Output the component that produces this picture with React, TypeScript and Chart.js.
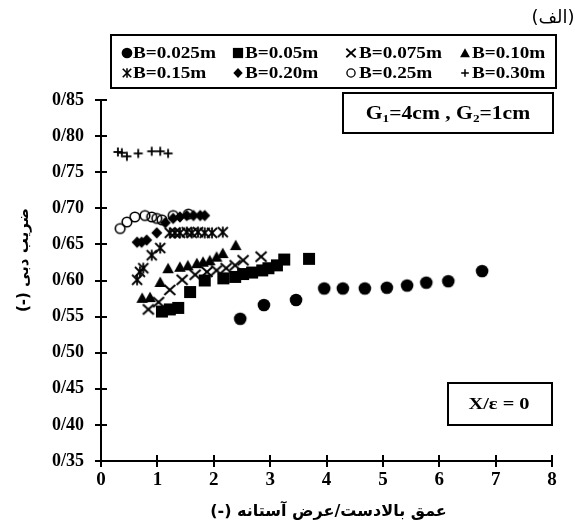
import React, { useEffect, useRef } from 'react';
import { Chart, registerables } from 'chart.js';

Chart.register(...registerables);

// ---------------- data ----------------
const seriesLabels = ['B=0.025m', 'B=0.05m', 'B=0.075m', 'B=0.10m', 'B=0.15m', 'B=0.20m', 'B=0.25m', 'B=0.30m'];
const seriesMarkers = ['circle', 'square', 'x', 'triangle', 'asterisk', 'diamond', 'ocircle', 'plus'];

const b025: [number, number][] = [[2.47, 0.547], [2.89, 0.566], [3.46, 0.573], [3.96, 0.589], [4.29, 0.589], [4.68, 0.589], [5.07, 0.590], [5.43, 0.593], [5.77, 0.597], [6.16, 0.599], [6.76, 0.613]];
const b050: [number, number][] = [[1.08, 0.557], [1.22, 0.560], [1.37, 0.562], [1.58, 0.584], [1.84, 0.600], [2.17, 0.603], [2.38, 0.605], [2.52, 0.609], [2.68, 0.611], [2.86, 0.614], [2.97, 0.617], [3.12, 0.621], [3.25, 0.629], [3.69, 0.630]];
const b075: [number, number][] = [[0.84, 0.560], [1.02, 0.570], [1.22, 0.587], [1.44, 0.601], [1.67, 0.608], [1.88, 0.612], [2.05, 0.614], [2.22, 0.617], [2.38, 0.621], [2.52, 0.628], [2.84, 0.633]];
const b100: [number, number][] = [[0.73, 0.576], [0.87, 0.577], [1.05, 0.598], [1.19, 0.617], [1.40, 0.619], [1.54, 0.621], [1.70, 0.624], [1.81, 0.626], [1.93, 0.628], [2.05, 0.633], [2.16, 0.638], [2.39, 0.649]];
const b150: [number, number][] = [[0.64, 0.601], [0.69, 0.612], [0.75, 0.617], [0.90, 0.635], [1.05, 0.645], [1.22, 0.666], [1.31, 0.666], [1.40, 0.666], [1.52, 0.667], [1.61, 0.666], [1.72, 0.667], [1.84, 0.666], [1.97, 0.666], [2.16, 0.667]];
const b200: [number, number][] = [[0.64, 0.653], [0.72, 0.653], [0.81, 0.656], [0.99, 0.666], [1.14, 0.680], [1.28, 0.686], [1.40, 0.688], [1.52, 0.690], [1.64, 0.690], [1.76, 0.690], [1.84, 0.690]];
const b250: [number, number][] = [[0.34, 0.672], [0.46, 0.681], [0.60, 0.688], [0.78, 0.690], [0.90, 0.688], [0.99, 0.686], [1.08, 0.684], [1.28, 0.690], [1.55, 0.692]];
const b300: [number, number][] = [[0.30, 0.778], [0.37, 0.777], [0.46, 0.772], [0.66, 0.776], [0.90, 0.779], [1.05, 0.779], [1.19, 0.776]];
const allSeries = [b025, b050, b075, b100, b150, b200, b250, b300];

const xMin = 0, xMax = 8, xStep = 1;
const yMin = 0.35, yMax = 0.85, yStep = 0.05;

const xTitle = 'عمق بالادست/عرض آستانه (-)';
const yTitle = 'ضریب دبی (-)';
const panelLabel = '(الف)';
const boxText2 = 'X/ε = 0';

// ---------------- markers ----------------
function makeMarker(kind: string, s = 1): HTMLCanvasElement {
  const size = Math.ceil(16 * s);
  const c = document.createElement('canvas');
  c.width = size; c.height = size;
  const g = c.getContext('2d')!;
  g.translate(size / 2, size / 2);
  g.scale(s, s);
  g.fillStyle = '#000';
  g.strokeStyle = '#000';
  g.lineCap = 'butt';
  const line = (a: number, b: number, cc: number, d: number) => { g.beginPath(); g.moveTo(a, b); g.lineTo(cc, d); g.stroke(); };
  switch (kind) {
    case 'circle':
      g.beginPath(); g.arc(0, 0, 6.3, 0, Math.PI * 2); g.fill(); break;
    case 'square':
      g.fillRect(-6, -6, 12, 12); break;
    case 'x':
      g.lineWidth = 2;
      line(-5.5, -5, 5.5, 5); line(-5.5, 5, 5.5, -5); break;
    case 'triangle':
      g.beginPath(); g.moveTo(0, -5.6); g.lineTo(5.8, 5); g.lineTo(-5.8, 5); g.closePath(); g.fill(); break;
    case 'asterisk':
      g.lineWidth = 1.8;
      line(-5, -5, 5, 5); line(-5, 5, 5, -5); line(0, -5.6, 0, 5.6); break;
    case 'diamond':
      g.beginPath(); g.moveTo(0, -5.8); g.lineTo(5.5, 0); g.lineTo(0, 5.8); g.lineTo(-5.5, 0); g.closePath(); g.fill(); break;
    case 'ocircle':
      g.lineWidth = 1.6;
      g.beginPath(); g.arc(0, 0, 4.8, 0, Math.PI * 2); g.stroke(); break;
    case 'plus':
      g.lineWidth = 1.8;
      line(-4.5, 0, 4.5, 0); line(0, -4.5, 0, 4.5); break;
  }
  return c;
}

const SERIF = '"Liberation Serif", "Times New Roman", serif';
const ARABIC = '"DejaVu Sans", sans-serif';

function stretchText(ctx: CanvasRenderingContext2D, text: string, x: number, y: number, sx = 1.2) {
  ctx.save();
  ctx.translate(x, y);
  ctx.scale(sx, 1);
  ctx.fillText(text, 0, 0);
  ctx.restore();
}

function boxRect(ctx: CanvasRenderingContext2D, x0: number, y0: number, x1: number, y1: number) {
  ctx.save();
  ctx.fillStyle = '#fff';
  ctx.fillRect(x0, y0, x1 - x0, y1 - y0);
  ctx.strokeStyle = '#000';
  ctx.lineWidth = 2;
  ctx.strokeRect(x0, y0, x1 - x0, y1 - y0);
  ctx.restore();
}

export default function App() {
  const ref = useRef<HTMLCanvasElement>(null);

  useEffect(() => {
    const markers = seriesMarkers.map((k) => makeMarker(k, 1));
    const legendMarkers = seriesMarkers.map((k) => makeMarker(k, 0.85));

    const decor = {
      id: 'decor',
      beforeDatasetsDraw(chart: any) {
        const ctx: CanvasRenderingContext2D = chart.ctx;
        const { left, bottom } = chart.chartArea;
        const xs = chart.scales.x, ys = chart.scales.y;
        ctx.save();
        ctx.strokeStyle = '#000';
        ctx.lineWidth = 2;
        xs.ticks.forEach((_t: any, i: number) => {
          const px = Math.round(xs.getPixelForTick(i));
          ctx.beginPath(); ctx.moveTo(px, bottom); ctx.lineTo(px, bottom - 6); ctx.stroke();
        });
        ys.ticks.forEach((_t: any, i: number) => {
          const py = Math.round(ys.getPixelForTick(i));
          ctx.beginPath(); ctx.moveTo(left, py); ctx.lineTo(left + 6, py); ctx.stroke();
        });
        ctx.restore();
      },
      afterDraw(chart: any) {
        const ctx: CanvasRenderingContext2D = chart.ctx;
        const xs = chart.scales.x;
        ctx.save();
        ctx.fillStyle = '#000';
        ctx.textBaseline = 'middle';

        // panel label
        ctx.save();
        ctx.font = `18px ${ARABIC}`;
        ctx.textAlign = 'center';
        ctx.direction = 'rtl';
        ctx.fillText(panelLabel, 553, 18);
        ctx.restore();

        // x title (RTL)
        ctx.save();
        ctx.font = `bold 16px ${ARABIC}`;
        ctx.direction = 'rtl';
        ctx.textAlign = 'center';
        ctx.fillText(xTitle, (xs.left + xs.right) / 2 + 2, 512);
        ctx.restore();

        // y title (rotated, RTL)
        ctx.save();
        ctx.translate(24, 260);
        ctx.rotate(-Math.PI / 2);
        ctx.direction = 'rtl';
        ctx.textAlign = 'center';
        ctx.font = `bold 15px ${ARABIC}`;
        ctx.fillText(yTitle, 0, 0);
        ctx.restore();

        // legend box
        boxRect(ctx, 111, 35, 556, 88);
        const colMarker = [127, 238, 351, 465];
        const colText = [133, 245, 359, 472];
        const rowY = [53, 73];
        ctx.font = `bold 16px ${SERIF}`;
        ctx.textAlign = 'left';
        ctx.direction = 'ltr';
        seriesLabels.forEach((lab, i) => {
          const r = Math.floor(i / 4), c = i % 4;
          const m = legendMarkers[i];
          ctx.drawImage(m, colMarker[c] - m.width / 2, rowY[r] - m.height / 2);
          stretchText(ctx, lab, colText[c], rowY[r] + 1);
        });

        // G box
        boxRect(ctx, 343, 93, 553, 133);
        const parts: [string, boolean][] = [['G', false], ['1', true], ['=4cm , G', false], ['2', true], ['=1cm', false]];
        const mainFont = `bold 18px ${SERIF}`;
        const subFont = `bold 11px ${SERIF}`;
        const sx = 1.2;
        let total = 0;
        parts.forEach(([t, sub]) => { ctx.font = sub ? subFont : mainFont; total += ctx.measureText(t).width * sx; });
        let cx = 448 - total / 2;
        ctx.textAlign = 'left';
        parts.forEach(([t, sub]) => {
          ctx.font = sub ? subFont : mainFont;
          stretchText(ctx, t, cx, 114 + (sub ? 5 : 0), sx);
          cx += ctx.measureText(t).width * sx;
        });

        // X/eps box
        boxRect(ctx, 448, 383, 552, 425);
        ctx.font = `bold 17px ${SERIF}`;
        ctx.textAlign = 'center';
        stretchText(ctx, boxText2, 499, 405, 1.2);

        ctx.restore();
      },
    };

    const tickFont = { family: SERIF, size: 18, weight: 'bold' as const };

    const chart = new Chart(ref.current!, {
      type: 'scatter',
      data: {
        datasets: allSeries.map((arr, i) => ({
          label: seriesLabels[i],
          data: arr.map(([x, y]) => ({ x, y })),
          pointStyle: markers[i],
          pointRadius: 6,
          showLine: false,
          clip: false as any,
        })),
      },
      options: {
        animation: false,
        responsive: false,
        devicePixelRatio: 1,
        layout: { padding: { left: 0, right: 23, top: 100, bottom: 0 } },
        plugins: { legend: { display: false }, tooltip: { enabled: false }, title: { display: false } },
        scales: {
          x: {
            type: 'linear',
            min: xMin,
            max: xMax,
            afterFit: (s: any) => { s.height = 67; },
            ticks: { stepSize: xStep, font: { ...tickFont, size: 19 }, color: '#000', padding: 2 },
            grid: { display: true, drawOnChartArea: false, drawTicks: true, tickLength: 6, color: '#000', lineWidth: 2 },
            border: { display: true, color: '#000', width: 2 },
          },
          y: {
            type: 'linear',
            min: yMin,
            max: yMax,
            afterFit: (s: any) => { s.width = 101; },
            ticks: {
              stepSize: yStep,
              font: tickFont,
              color: '#000',
              padding: 11,
              callback: (v: any) => Number(v).toFixed(2).replace('.', '/'),
            },
            grid: { display: true, drawOnChartArea: false, drawTicks: true, tickLength: 6, color: '#000', lineWidth: 2 },
            border: { display: true, color: '#000', width: 2 },
          },
        },
      },
      plugins: [decor],
    } as any);

    return () => chart.destroy();
  }, []);

  return (
    <div style={{ position: 'fixed', left: 0, top: 0, width: 575, height: 528, background: '#fff' }}>
      <canvas ref={ref} width={575} height={528} style={{ display: 'block', width: 575, height: 528 }} />
    </div>
  );
}
